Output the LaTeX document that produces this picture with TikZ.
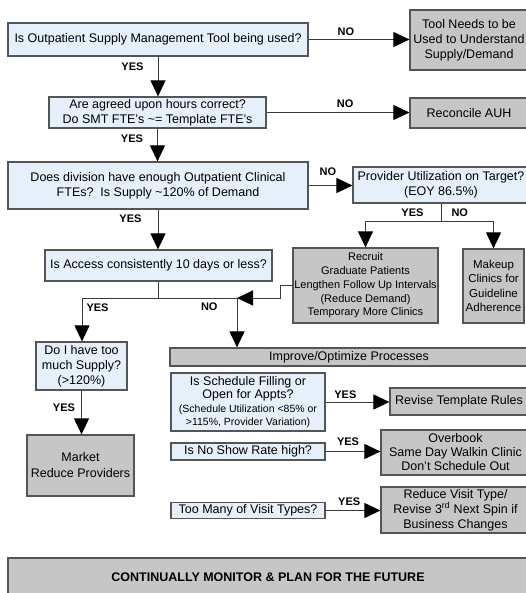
\documentclass[tikz,border=0pt]{standalone}
\usepackage{fontspec}
\setmainfont{Liberation Sans}
\usepackage{xcolor}
\usetikzlibrary{arrows.meta,positioning,calc}
\definecolor{qfill}{HTML}{E6F0FA}
\definecolor{afill}{HTML}{C6C6C6}
\definecolor{boxline}{HTML}{555555}
\definecolor{linecol}{HTML}{3A3A3A}

\begin{document}
\begin{tikzpicture}[x=1pt, y=1pt,
	qbox/.style={draw=boxline, line width=1.2pt, fill=qfill, align=center, inner sep=1pt, font=\fontsize{12.5}{15}\selectfont},
	abox/.style={qbox, fill=afill},
	arr/.style={draw=linecol, line width=1pt, -{Triangle[length=16pt, width=15pt, color=black]}},
	con/.style={draw=linecol, line width=1pt},
	lbl/.style={font=\bfseries\fontsize{11}{13}\selectfont, inner sep=0pt}]
	\clip (0,0) rectangle (526,-593);
	\node [qbox, minimum width=300pt, minimum height=33pt] (q1) at (158,-39.5) {Is Outpatient Supply Management Tool being used?};
	\node [abox, minimum width=118pt, minimum height=60pt] (a1) at (469,-40) {Tool Needs to be\\Used to Understand\\Supply/Demand};
	\node [qbox, minimum width=217pt, minimum height=31pt] (q2) at (157.5,-112.5) {Are agreed upon hours correct?\\Do SMT FTE's \textasciitilde= Template FTE's};
	\node [abox, minimum width=118pt, minimum height=30pt] (a2) at (469,-113) {Reconcile AUH};
	\node [qbox, minimum width=300pt, minimum height=47pt] (q3) at (158,-185.5) {Does division have enough Outpatient Clinical\\FTEs?~~Is Supply \textasciitilde120\% of Demand};
	\node [qbox, minimum width=176pt, minimum height=36pt] (q4) at (441,-185) {Provider Utilization on Target?\\(EOY 86.5\%)};
	\node [abox, minimum width=145pt, minimum height=75pt, font=\fontsize{11}{13.7}\selectfont] (r1) at (365.5,-285.5) {Recruit\\Graduate Patients\\Lengthen Follow Up Intervals\\(Reduce Demand)\\Temporary More Clinics};
	\node [abox, minimum width=61pt, minimum height=74pt, font=\fontsize{11.5}{14.3}\selectfont] (r2) at (493.5,-286) {Makeup\\Clinics for\\Guideline\\Adherence};
	\node [qbox, minimum width=227pt, minimum height=31pt] (q5) at (158.5,-265.5) {Is Access consistently 10 days or less?};
	\node [qbox, minimum width=91pt, minimum height=48pt] (q6) at (81.5,-366) {Do I have too\\much Supply?\\(>120\%)};
	\node [abox, minimum width=107pt, minimum height=61pt, font=\fontsize{12.5}{16}\selectfont] (r3) at (80.5,-465.5) {Market\\Reduce Providers};
	\node [abox, minimum width=358pt, minimum height=18pt] (bar1) at (349,-357) {Improve/Optimize Processes};
	\node [qbox, minimum width=154pt, minimum height=58pt, font=\fontsize{12.5}{13.5}\selectfont] (q7) at (248,-402) {Is Schedule Filling or\\Open for Appts?\\\fontsize{10.5}{12}\selectfont(Schedule Utilization <85\% or\\\fontsize{10.5}{12}\selectfont>115\%, Provider Variation)};
	\node [abox, minimum width=138pt, minimum height=27pt] (r4) at (459,-401.5) {Revise Template Rules};
	\node [qbox, minimum width=154pt, minimum height=17pt] (q8) at (248,-451.5) {Is No Show Rate high?};
	\node [abox, minimum width=149pt, minimum height=45pt, font=\fontsize{12.5}{14}\selectfont] (r5) at (455.5,-452.5) {Overbook\\Same Day Walkin Clinic\\Don't Schedule Out};
	\node [qbox, minimum width=154pt, minimum height=16pt] (q9) at (248,-510.5) {Too Many of Visit Types?};
	\node [abox, minimum width=149pt, minimum height=46pt] (r6) at (455.5,-510) {Reduce Visit Type/\\Revise 3\textsuperscript{rd} Next Spin if\\Business Changes};
	\node [abox, minimum width=520pt, minimum height=38pt, font=\bfseries\fontsize{12.5}{15}\selectfont] (bar2) at (268,-577) {CONTINUALLY MONITOR \& PLAN FOR THE FUTURE};

	\draw [arr] (q1.east) -- node [lbl, above=3pt, pos=.37] (n1) {NO} (q1.east -| a1.west);
	\draw [arr] (q1.south) -- node [lbl, left=14pt, pos=.25] (y1) {YES} (q1.south |- q2.north);
	\draw [arr] (q2.east) -- node [lbl, above=4pt, pos=.55] (n2) {NO} (q2.east -| a2.west);
	\draw [arr] (q2.south) -- node [lbl, left=14pt, pos=.3] (y2) {YES} (q2.south |- q3.north);
	\draw [arr] (q3.east) -- node [lbl, above=9pt, pos=.44] (n3) {NO} (q3.east -| q4.west);
	\draw [arr] (q3.south) -- node [lbl, left=16pt, pos=.24] (y3) {YES} (q3.south |- q5.north);
	\coordinate (b) at (441,-222);
	\draw [con] (q4.south) -- node [lbl, left=17pt] (y4) {YES} node [lbl, right=10pt] (n4) {NO} (b);
	\draw [arr] (b) -| (r1.north);
	\draw [arr] (b) -| (r2.north);
	\coordinate (jl) at (82,-298);
	\coordinate (jm) at (237,-298);
	\coordinate (jr) at (280,-298);
	\draw [con] (q5.south) -- (q5.south |- jl);
	\draw [con] (jl) -- (jm);
	\draw [arr] (r1.west) -- (r1.west -| jr) -- (jr) -- (jm);
	\draw [arr] (jl) -- node [lbl, right=4pt, pos=.23] (y5) {YES} (jl |- q6.north);
	\draw [arr] (jm) -- node [lbl, left=19pt, pos=.18] (n5) {NO} (jm |- bar1.north);
	\draw [arr] (q6.south) -- node [lbl, left=6pt, pos=.4] (y6) {YES} (q6.south |- r3.north);
	\draw [arr] (q7.east) -- node [lbl, above=3pt, pos=.31] (y7) {YES} (q7.east -| r4.west);
	\draw [arr] (q8.east) -- node [lbl, above=5pt, pos=.41] (y8) {YES} (q8.east -| r5.west);
	\draw [arr] (q9.east) -- node [lbl, above=4pt, pos=.43] (y9) {YES} (q9.east -| r6.west);
\end{tikzpicture}
\end{document}
